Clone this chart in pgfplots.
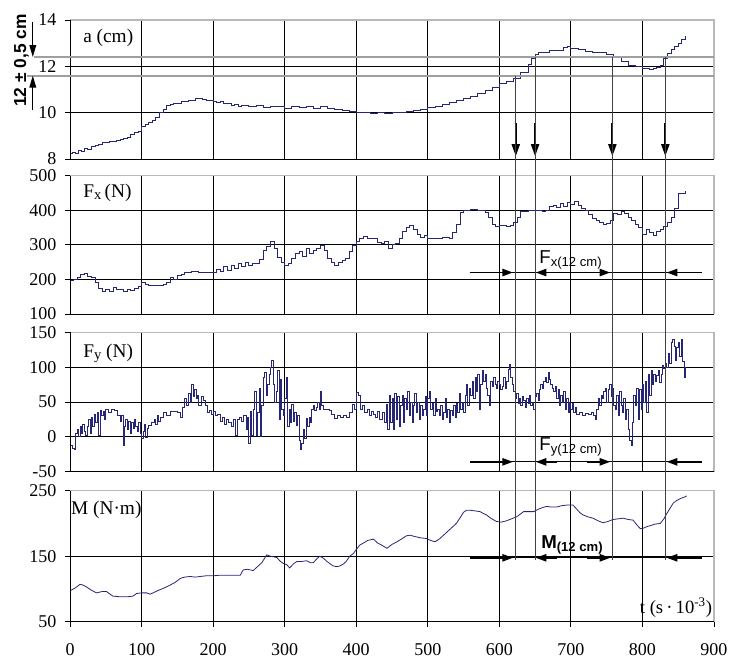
\documentclass[border=0pt]{standalone}
\usepackage{fontspec}
\setmainfont{Liberation Serif}
\setsansfont{Liberation Sans}
\usepackage{pgfplots}
\usepackage{pgfplotstable}
\pgfplotsset{compat=1.18}
\usetikzlibrary{arrows.meta}

\definecolor{curve}{RGB}{38,38,118}

% a (cm)
\pgfplotstableread[row sep=\\]{t v\\
0 8.22\\ 4 8.30\\ 8 8.25\\ 12 8.38\\ 16 8.33\\ 20 8.45\\ 25 8.42\\ 30 8.55\\ 35 8.6\\ 40 8.65\\
45 8.7\\ 50 8.72\\ 55 8.75\\ 60 8.78\\ 65 8.8\\ 70 8.85\\ 75 8.9\\ 80 8.95\\ 85 9.05\\ 90 9.15\\
95 9.2\\ 100 9.4\\ 105 9.5\\ 110 9.6\\ 115 9.65\\ 120 9.8\\ 125 10.0\\ 130 10.15\\ 135 10.3\\ 140 10.35\\
145 10.4\\ 150 10.42\\ 155 10.5\\ 160 10.48\\ 165 10.55\\ 170 10.55\\ 175 10.6\\ 180 10.62\\ 185 10.58\\ 190 10.55\\
195 10.52\\ 200 10.5\\ 205 10.45\\ 210 10.48\\ 215 10.38\\ 220 10.4\\ 225 10.32\\ 230 10.35\\ 235 10.28\\ 240 10.3\\
250 10.25\\ 260 10.3\\ 270 10.22\\ 280 10.28\\ 290 10.25\\ 300 10.2\\ 310 10.28\\ 320 10.22\\ 330 10.25\\ 340 10.2\\
350 10.25\\ 360 10.18\\ 370 10.12\\ 380 10.08\\ 390 10.05\\ 400 10.02\\ 410 10.0\\ 420 9.95\\ 430 10.0\\ 440 9.97\\
450 10.0\\ 460 10.03\\ 470 10.05\\ 480 10.1\\ 490 10.15\\ 500 10.22\\ 510 10.28\\ 520 10.35\\ 530 10.45\\ 540 10.55\\
550 10.62\\ 560 10.72\\ 570 10.82\\ 580 10.95\\ 590 11.1\\ 600 11.25\\ 610 11.35\\ 620 11.5\\ 630 11.75\\ 640 12.1\\
645 12.35\\ 650 12.5\\ 655 12.6\\ 660 12.62\\ 670 12.68\\ 680 12.7\\ 690 12.82\\ 695 12.86\\ 700 12.78\\ 710 12.72\\
720 12.65\\ 730 12.62\\ 740 12.6\\ 750 12.52\\ 760 12.38\\ 770 12.2\\ 780 12.05\\ 790 11.98\\ 800 11.9\\ 810 11.85\\
815 11.9\\ 820 11.95\\ 825 12.05\\ 830 12.35\\ 835 12.55\\ 840 12.75\\ 845 12.85\\ 850 13.0\\ 855 13.15\\ 860 13.3\\
}\dataA

% Fx (N)
\pgfplotstableread[row sep=\\]{t v\\
0 196\\ 5 200\\ 10 205\\ 15 215\\ 20 218\\ 25 210\\ 30 205\\ 35 190\\ 40 175\\ 45 165\\
50 170\\ 55 165\\ 60 178\\ 65 172\\ 70 170\\ 75 165\\ 80 172\\ 85 168\\ 90 175\\ 95 180\\
100 190\\ 105 185\\ 110 184\\ 120 184\\ 130 185\\ 135 192\\ 140 205\\ 145 200\\ 150 212\\ 155 215\\
160 220\\ 170 222\\ 180 220\\ 190 220\\ 200 220\\ 205 230\\ 210 222\\ 215 238\\ 220 225\\ 225 240\\
230 232\\ 235 245\\ 240 238\\ 245 250\\ 250 242\\ 255 245\\ 260 245\\ 265 258\\ 270 285\\ 275 295\\
280 310\\ 285 290\\ 290 265\\ 295 250\\ 300 242\\ 305 245\\ 310 260\\ 315 275\\ 320 282\\ 325 268\\
330 290\\ 335 275\\ 340 285\\ 345 290\\ 350 298\\ 355 285\\ 360 260\\ 365 250\\ 370 242\\ 375 248\\
380 255\\ 385 262\\ 390 280\\ 395 298\\ 400 310\\ 405 320\\ 410 325\\ 415 320\\ 420 320\\ 425 318\\
430 308\\ 435 305\\ 440 310\\ 445 290\\ 450 300\\ 455 305\\ 460 320\\ 465 340\\ 470 350\\ 475 356\\
480 345\\ 485 330\\ 490 322\\ 495 326\\ 500 320\\ 510 318\\ 520 322\\ 530 320\\ 535 335\\ 540 360\\
545 395\\ 550 400\\ 560 402\\ 570 400\\ 575 400\\ 580 395\\ 585 380\\ 590 360\\ 595 352\\ 600 355\\
610 352\\ 615 355\\ 620 365\\ 625 380\\ 630 396\\ 640 399\\ 650 400\\ 660 398\\ 665 400\\ 670 410\\
675 415\\ 680 408\\ 685 420\\ 690 412\\ 695 422\\ 700 418\\ 705 425\\ 710 415\\ 715 405\\ 720 400\\
725 388\\ 730 378\\ 735 370\\ 740 365\\ 745 360\\ 750 362\\ 755 372\\ 760 392\\ 765 388\\ 770 398\\
775 390\\ 780 380\\ 785 370\\ 790 360\\ 795 350\\ 800 330\\ 805 345\\ 810 335\\ 815 328\\ 820 340\\
825 345\\ 830 352\\ 835 365\\ 840 380\\ 845 405\\ 850 448\\ 860 455\\
}\dataFx

% Fy (N)
\pgfplotstableread[row sep=\\]{t v\\
0 -12\\ 3 -16\\ 6 -18\\ 8 5\\ 10 10\\ 12 0\\ 14 15\\ 16 5\\ 18 18\\ 20 8\\
22 2\\ 24 15\\ 26 25\\ 28 5\\ 30 28\\ 32 15\\ 34 32\\ 36 20\\ 38 35\\ 40 2\\
42 38\\ 44 30\\ 46 36\\ 48 25\\ 50 40\\ 54 35\\ 58 40\\ 62 38\\ 66 30\\ 70 22\\
72 30\\ 74 -12\\ 76 15\\ 78 25\\ 80 10\\ 82 22\\ 84 5\\ 86 20\\ 88 12\\ 90 25\\
92 15\\ 94 8\\ 96 20\\ 98 5\\ 100 -2\\ 102 8\\ 104 18\\ 106 -1\\ 108 12\\ 110 16\\
114 20\\ 118 25\\ 120 18\\ 122 30\\ 124 22\\ 126 28\\ 130 35\\ 135 30\\ 140 36\\ 145 36\\
150 35\\ 154 28\\ 157 42\\ 160 55\\ 163 45\\ 166 62\\ 168 50\\ 170 75\\ 172 58\\ 174 68\\
176 55\\ 178 60\\ 180 45\\ 183 58\\ 186 52\\ 189 45\\ 192 35\\ 195 38\\ 198 32\\ 200 36\\
203 30\\ 206 32\\ 210 22\\ 213 28\\ 216 18\\ 219 25\\ 222 20\\ 225 15\\ 228 25\\ 231 2\\
234 25\\ 237 28\\ 240 22\\ 243 30\\ 246 10\\ 248 28\\ 250 -10\\ 252 36\\ 254 2\\ 256 40\\
258 65\\ 260 2\\ 262 35\\ 264 70\\ 266 0\\ 268 45\\ 270 85\\ 272 92\\ 274 60\\ 276 75\\
278 90\\ 280 100\\ 282 110\\ 284 75\\ 286 50\\ 288 65\\ 290 95\\ 292 25\\ 294 82\\ 296 40\\
298 30\\ 300 55\\ 302 85\\ 304 15\\ 306 40\\ 308 20\\ 310 46\\ 312 22\\ 314 35\\ 316 16\\
318 30\\ 320 -5\\ 322 -18\\ 324 -10\\ 326 10\\ 328 -2\\ 330 26\\ 332 15\\ 334 28\\ 336 20\\
338 40\\ 340 45\\ 342 38\\ 344 42\\ 346 50\\ 348 40\\ 350 65\\ 352 45\\ 354 40\\ 358 40\\
362 38\\ 366 32\\ 370 26\\ 374 30\\ 378 28\\ 382 30\\ 386 28\\ 390 35\\ 394 46\\ 398 40\\
400 63\\ 403 60\\ 406 40\\ 409 45\\ 412 35\\ 415 40\\ 418 30\\ 421 36\\ 424 32\\ 427 28\\
430 36\\ 433 25\\ 436 35\\ 439 20\\ 442 46\\ 444 10\\ 446 60\\ 448 20\\ 450 55\\ 452 10\\
454 62\\ 456 25\\ 458 58\\ 460 15\\ 462 45\\ 464 60\\ 466 20\\ 468 55\\ 470 40\\ 472 65\\
474 30\\ 476 50\\ 478 20\\ 480 45\\ 482 62\\ 484 35\\ 486 50\\ 488 25\\ 490 45\\ 492 30\\
494 40\\ 496 58\\ 498 30\\ 500 55\\ 502 65\\ 504 40\\ 506 48\\ 508 30\\ 510 55\\ 512 36\\
514 40\\ 516 30\\ 518 45\\ 520 25\\ 522 35\\ 524 55\\ 526 28\\ 528 40\\ 530 20\\ 532 38\\
534 30\\ 536 45\\ 538 28\\ 540 48\\ 542 35\\ 544 62\\ 546 40\\ 548 50\\ 550 35\\ 552 60\\
554 75\\ 556 45\\ 558 70\\ 560 60\\ 562 80\\ 564 55\\ 566 85\\ 568 65\\ 570 90\\ 572 40\\
574 75\\ 576 95\\ 578 80\\ 580 90\\ 582 70\\ 584 60\\ 586 45\\ 588 80\\ 590 72\\ 592 85\\
594 75\\ 596 70\\ 598 80\\ 600 75\\ 602 68\\ 604 72\\ 606 85\\ 608 70\\ 610 80\\ 612 96\\
614 104\\ 616 85\\ 618 75\\ 620 65\\ 622 55\\ 624 62\\ 626 48\\ 628 55\\ 630 45\\ 632 58\\
634 52\\ 636 42\\ 638 55\\ 640 48\\ 642 60\\ 644 45\\ 646 50\\ 648 40\\ 650 58\\ 652 62\\
654 52\\ 656 68\\ 658 75\\ 660 70\\ 662 80\\ 664 85\\ 666 78\\ 668 92\\ 670 82\\ 672 75\\
674 70\\ 676 65\\ 678 72\\ 680 55\\ 682 68\\ 684 45\\ 686 60\\ 688 50\\ 690 65\\ 692 40\\
694 55\\ 696 35\\ 698 50\\ 700 40\\ 702 48\\ 704 35\\ 706 42\\ 708 32\\ 712 35\\ 716 30\\
720 33\\ 724 32\\ 728 35\\ 732 30\\ 734 25\\ 736 40\\ 738 55\\ 740 45\\ 742 60\\ 744 55\\
746 65\\ 748 70\\ 750 50\\ 752 68\\ 754 75\\ 756 58\\ 758 70\\ 760 45\\ 762 40\\ 764 60\\
766 30\\ 768 65\\ 770 45\\ 772 35\\ 774 55\\ 776 25\\ 778 40\\ 780 10\\ 782 -5\\ 784 -12\\
786 20\\ 788 60\\ 790 45\\ 792 70\\ 794 25\\ 796 68\\ 798 40\\ 800 75\\ 802 50\\ 804 80\\
806 35\\ 808 90\\ 810 60\\ 812 95\\ 814 75\\ 816 90\\ 818 80\\ 820 88\\ 822 95\\ 824 78\\
826 90\\ 828 102\\ 830 98\\ 832 105\\ 834 100\\ 836 120\\ 838 105\\ 840 135\\ 842 140\\ 844 130\\
846 110\\ 848 128\\ 850 135\\ 852 115\\ 854 140\\ 856 108\\ 858 85\\ 860 100\\
}\dataFy

% M (N m)
\pgfplotstableread[row sep=\\]{t v\\
0 97\\ 8 102\\ 14 107\\ 18 106\\ 23 103\\ 30 98\\ 37 94\\ 45 96\\ 51 96\\ 56 92\\
60 89\\ 70 88\\ 80 88\\ 88 89\\ 93 93\\ 100 94\\ 107 94\\ 112 92\\ 118 95\\ 126 99\\
133 102\\ 140 106\\ 147 110\\ 154 116\\ 160 118\\ 168 119\\ 175 118\\ 182 119\\ 190 120\\ 200 120\\
210 121\\ 220 121\\ 230 121\\ 238 121\\ 242 129\\ 248 130\\ 256 128\\ 262 134\\ 268 140\\ 275 152\\
280 150\\ 289 148\\ 294 142\\ 298 139\\ 303 137\\ 307 132\\ 312 138\\ 317 142\\ 324 142\\ 331 143\\
336 140\\ 340 140\\ 345 146\\ 349 150\\ 354 147\\ 359 142\\ 364 138\\ 368 135\\ 373 134\\ 377 135\\
382 138\\ 386 142\\ 391 150\\ 396 154\\ 400 160\\ 405 167\\ 410 170\\ 416 174\\ 424 176\\ 430 170\\
437 166\\ 443 162\\ 450 168\\ 457 172\\ 463 176\\ 470 181\\ 475 182\\ 482 180\\ 490 178\\ 498 177\\
504 174\\ 510 172\\ 516 176\\ 522 182\\ 527 187\\ 533 193\\ 540 200\\ 546 210\\ 550 217\\ 554 220\\
560 220\\ 567 219\\ 573 218\\ 578 215\\ 582 213\\ 588 208\\ 596 203\\ 603 202\\ 610 204\\ 617 207\\
624 210\\ 629 214\\ 634 218\\ 641 218\\ 648 218\\ 655 222\\ 660 224\\ 666 226\\ 673 225\\ 680 225\\
687 227\\ 694 228\\ 700 228\\ 703 228\\ 708 222\\ 713 216\\ 717 213\\ 724 210\\ 731 208\\ 738 204\\
745 201\\ 752 203\\ 759 206\\ 766 207\\ 773 208\\ 780 206\\ 787 205\\ 792 198\\ 797 192\\ 802 193\\
806 195\\ 812 197\\ 818 199\\ 825 200\\ 830 207\\ 834 215\\ 838 222\\ 843 231\\ 848 235\\ 853 238\\
858 240\\ 862 242\\
}\dataM

\pgfplotsset{
  panel/.style={
    scale only axis, width=483pt, xmin=0, xmax=900,
    xtick={0,100,...,900}, clip=false,
    grid=major, major grid style={black, line width=0.6pt},
    axis line style={draw=none},
    tick align=outside, major tick length=3.75pt,
    tick style={black, line width=0.6pt},
    ytick pos=left, xtick pos=bottom,
    /pgf/number format/assume math mode=true,
    /pgf/number format/1000 sep={},
    yticklabel style={font=\fontsize{13.5}{15}\selectfont, xshift=-3pt},
    xticklabel style={font=\fontsize{13.5}{15}\selectfont, yshift=-9pt},
    anchor=north west,
  },
  upper/.style={xticklabels={}, x tick style={draw=none}},
}
\tikzset{
  harrow/.style={-{Triangle[length=8pt,width=5.5pt]}, line width=1.3pt, black},
  varrow/.style={-{Triangle[length=9pt,width=6pt]}, line width=1.4pt, black},
}
\newcommand{\panelframe}{%
  \draw[gray!55, line width=0.9pt] (rel axis cs:0,1) -- (rel axis cs:1,1) -- (rel axis cs:1,0);
  \draw[black, line width=0.7pt] (rel axis cs:0,1) -- (rel axis cs:0,0) -- (rel axis cs:1,0);}
\newcommand{\labfont}{\fontsize{14.5}{16}\selectfont}

\begin{document}
\begin{tikzpicture}
% ---- a (cm)
\begin{axis}[panel, upper, name=pA, at={(0pt,0pt)}, height=104.25pt,
  ymin=8, ymax=14, ytick={8,10,12,14}]
\addplot[curve, line width=0.6pt, const plot] table[x=t, y=v] {\dataA};
\panelframe
\draw[gray!75, line width=1.4pt] (axis cs:-50,12.4) -- (axis cs:900,12.4);
\draw[gray!75, line width=1.4pt] (axis cs:-60,11.6) -- (axis cs:900,11.6);
\draw[-{Triangle[length=9pt,width=5pt]}, line width=0.9pt] (axis cs:-52,13.9) -- (axis cs:-52,12.4);
\draw[-{Triangle[length=9pt,width=5pt]}, line width=0.9pt] (axis cs:-52,10.1) -- (axis cs:-52,11.6);
\node[rotate=90, font=\sffamily\bfseries\fontsize{13}{15}\selectfont] at (axis cs:-68,12.25) {12 ± 0,5 cm};
\node[anchor=west, font=\labfont] at (axis cs:12,13.22) {a (cm)};
\coordinate (v1) at (axis cs:623,11.6);
\coordinate (v2) at (axis cs:650,12.4);
\coordinate (v3) at (axis cs:758,12.4);
\coordinate (v4) at (axis cs:832,12.4);
\draw[varrow] (axis cs:623,9.55) -- (axis cs:623,8.12);
\draw[varrow] (axis cs:650,9.55) -- (axis cs:650,8.12);
\draw[varrow] (axis cs:758,9.55) -- (axis cs:758,8.12);
\draw[varrow] (axis cs:832,9.55) -- (axis cs:832,8.12);
\end{axis}
% ---- Fx (N)
\begin{axis}[panel, upper, name=pB, at={(0pt,-116.8pt)}, height=103.7pt,
  ymin=100, ymax=500, ytick={100,200,...,500}]
\addplot[curve, line width=0.6pt, const plot] table[x=t, y=v] {\dataFx};
\panelframe
\node[anchor=west, font=\labfont] at (axis cs:12,450) {F{\fontsize{11}{12}\selectfont\raisebox{-1.5pt}{x}}\,(N)};
\draw[line width=0.6pt] (axis cs:559,220) -- (axis cs:883,220);
\draw[harrow] (axis cs:559,220) -- (axis cs:619,220);
\draw[harrow] (axis cs:680,220) -- (axis cs:651,220);
\draw[harrow] (axis cs:722,220) -- (axis cs:755,220);
\draw[harrow] (axis cs:883,220) -- (axis cs:834,220);
\node[font=\sffamily\fontsize{14}{16}\selectfont] at (axis cs:700,256) {F\textsubscript{x(12 cm)}};
\end{axis}
% ---- Fy (N)
\begin{axis}[panel, upper, name=pC, at={(0pt,-234.2pt)}, height=104.5pt,
  ymin=-50, ymax=150, ytick={-50,0,...,150}]
\addplot[curve, line width=0.6pt, const plot] table[x=t, y=v] {\dataFy};
\panelframe
\node[anchor=west, font=\labfont] at (axis cs:12,120) {F{\fontsize{11}{12}\selectfont\raisebox{-1.5pt}{y}} (N)};
\draw[line width=0.6pt] (axis cs:559,-36) -- (axis cs:883,-36);
\draw[harrow] (axis cs:559,-36) -- (axis cs:619,-36);
\draw[harrow] (axis cs:680,-36) -- (axis cs:651,-36);
\draw[harrow] (axis cs:722,-36) -- (axis cs:755,-36);
\draw[harrow] (axis cs:883,-36) -- (axis cs:834,-36);
\node[font=\sffamily\fontsize{14}{16}\selectfont] at (axis cs:700,-15) {F\textsubscript{y(12 cm)}};
\end{axis}
% ---- M (N m)
\begin{axis}[panel, name=pD, at={(0pt,-353pt)}, height=98.25pt,
  ymin=50, ymax=250, ytick={50,150,250}]
\addplot[curve, line width=0.6pt] table[x=t, y=v] {\dataM};
\panelframe
\node[anchor=west, font=\labfont] at (axis cs:-5,220) {M (N·m)};
\draw[line width=0.6pt] (axis cs:559,147.5) -- (axis cs:883,147.5);
\draw[harrow] (axis cs:559,147.5) -- (axis cs:619,147.5);
\draw[harrow] (axis cs:680,147.5) -- (axis cs:651,147.5);
\draw[harrow] (axis cs:722,147.5) -- (axis cs:755,147.5);
\draw[harrow] (axis cs:883,147.5) -- (axis cs:834,147.5);
\node[font=\sffamily\bfseries\fontsize{14}{16}\selectfont] at (axis cs:702,167) {M\textsubscript{(12 cm)}};
\node[anchor=east, font=\fontsize{14}{16}\selectfont] at (axis cs:904,71) {t (s\,·\,10\textsuperscript{-3})};
\coordinate (e) at (axis cs:0,144);
\end{axis}
\draw[black!75, line width=0.6pt] (v1) -- (v1 |- e);
\draw[black!75, line width=0.6pt] (v2) -- (v2 |- e);
\draw[black!75, line width=0.6pt] (v3) -- (v3 |- e);
\draw[black!75, line width=0.6pt] (v4) -- (v4 |- e);
\pgfresetboundingbox
\path[use as bounding box] ([xshift=-52.5pt,yshift=15pt]pA.north west) rectangle ([xshift=494.25pt,yshift=-483pt]pA.north west);
\end{tikzpicture}
\end{document}
